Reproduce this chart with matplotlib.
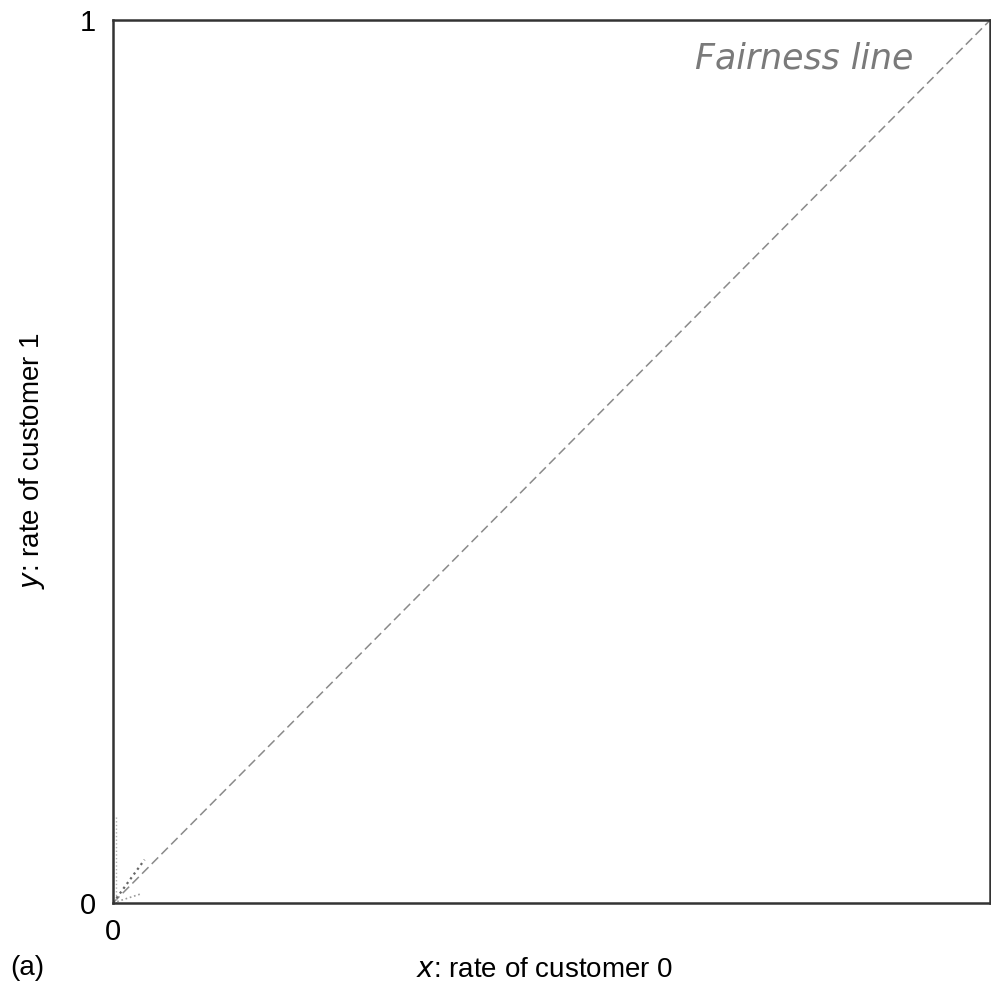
import matplotlib
matplotlib.use("Agg")
import matplotlib.pyplot as plt

plt.rcParams['font.family'] = ['Liberation Sans', 'DejaVu Sans']

# fairness line x = y
fair_x = [0, 1]
fair_y = [0, 1]

# short trajectory traces near the origin
trace_vert_x = [0.003, 0.003]
trace_vert_y = [0.0, 0.1]
trace_steep_x = [0.0, 0.036]
trace_steep_y = [0.0, 0.049]
trace_flat_x = [0.0, 0.031]
trace_flat_y = [0.0, 0.01]

x_ticks = [0]
y_ticks = [0, 1]

fig = plt.figure(figsize=(9.91, 9.94), dpi=100)
ax = fig.add_axes([0.114, 0.0916, 0.885, 0.888])

ax.plot(fair_x, fair_y, ls=(0, (6, 3)), color='#8a8a8a', lw=1.1)
ax.plot(trace_vert_x, trace_vert_y, ls=':', color='#b0b0b0', lw=1.0)
ax.plot(trace_steep_x, trace_steep_y, ls=':', color='#666666', lw=1.6)
ax.plot(trace_flat_x, trace_flat_y, ls=':', color='#999999', lw=1.2)

ax.set_xlim(0, 1)
ax.set_ylim(0, 1)
ax.set_xticks(x_ticks)
ax.set_yticks(y_ticks)
ax.set_xticklabels(['0'], fontsize=21)
ax.set_yticklabels(['0', '1'], fontsize=21)
ax.tick_params(axis='x', length=0, pad=11)
ax.tick_params(axis='y', length=0, pad=12)
for s in ax.spines.values():
    s.set_color('#333333')
    s.set_linewidth(1.8)

ax.text(0.788, 0.957, 'Fairness line', transform=ax.transAxes, fontsize=25,
        style='italic', color='#7a7a7a', ha='center', va='center', family='DejaVu Sans')

fig.text(0.55, 0.024, r'$\it{x}$: rate of customer 0', ha='center', va='center', fontsize=20)
fig.text(0.01, 0.026, '(a)', ha='left', va='center', fontsize=20)
fig.text(0.032, 0.537, r'$\it{y}$: rate of customer 1', ha='center', va='center',
         rotation=90, fontsize=20)

fig.savefig('out.png', dpi=100)
